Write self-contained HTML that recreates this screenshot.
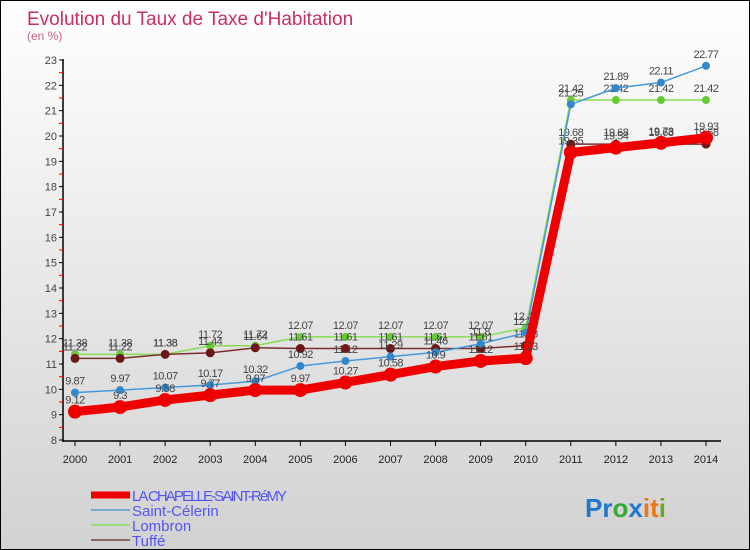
<!DOCTYPE html>
<html><head><meta charset="utf-8"><style>
html,body{margin:0;padding:0}
body{width:750px;height:550px;overflow:hidden;font-family:"Liberation Sans",sans-serif}
#wrap{position:relative;width:748px;height:548px;border:1px solid #000;background:linear-gradient(#ffffff,#d2d2d2)}
</style></head><body>
<div id="wrap">
<svg id="chart" width="748" height="548" style="position:absolute;left:0;top:0"></svg>
</div>
<script>
const years=[2000,2001,2002,2003,2004,2005,2006,2007,2008,2009,2010,2011,2012,2013,2014];
const yTicks=[8,9,10,11,12,13,14,15,16,17,18,19,20,21,22,23];
const chapelle=[9.12,9.3,9.58,9.77,9.97,9.97,10.27,10.58,10.9,11.12,11.23,19.35,19.54,19.73,19.93];
const celerin=[9.87,9.97,10.07,10.17,10.32,10.92,11.12,11.29,11.46,11.8,12.23,21.25,21.89,22.11,22.77];
const lombron=[11.38,11.38,11.38,11.72,11.72,12.07,12.07,12.07,12.07,12.07,12.43,21.42,21.42,21.42,21.42];
const tuffe=[11.22,11.22,11.38,11.44,11.64,11.61,11.61,11.61,11.61,11.61,11.73,19.68,19.68,19.68,19.68];
const NS='http://www.w3.org/2000/svg';
const svg=document.getElementById('chart');
const X=i=>74+i*(631/14);
const Y=v=>439-(v-8)*(380/15);
function mk(t,a,p){const e=document.createElementNS(NS,t);for(const k in a)e.setAttribute(k,a[k]);(p||svg).appendChild(e);return e;}
function tx(s,a){const e=mk('text',a);e.textContent=s;return e;}
let t=tx("Evolution du Taux de Taxe d'Habitation",{x:26,y:24,'font-size':19,fill:'#c8305f'});


t=tx("(en %)",{x:26,y:39,'font-size':12,fill:'#c8607f'});


// axes
let ax=mk('line',{x1:62,y1:58,x2:62,y2:441,stroke:'#000','stroke-width':1.5});


ax=mk('line',{x1:62,y1:440,x2:720,y2:440,stroke:'#000','stroke-width':1.5});


yTicks.forEach(v=>{
 mk('line',{x1:58,y1:Y(v),x2:62,y2:Y(v),stroke:'#000'});
 if(v<23) mk('line',{x1:58,y1:Y(v+0.5),x2:62,y2:Y(v+0.5),stroke:'#e00'});
 const l=tx(String(v),{x:56,y:Y(v)+4,'font-size':11,fill:'#444','text-anchor':'end'});
 
 
});
years.forEach((y,i)=>{
 mk('line',{x1:X(i),y1:440,x2:X(i),y2:445,stroke:'#000'});
 const l=tx(String(y),{x:X(i),y:462,'font-size':11,fill:'#222','text-anchor':'middle'});
 
 
});
function series(arr,color,w,r,dot,name,lblDy){
 const g=mk('g',{});
 
 
 const pl=mk('polyline',{points:arr.map((v,i)=>X(i)+','+Y(v)).join(' '),fill:'none',stroke:color,'stroke-width':w,'stroke-linejoin':'round'},g);
 
 
 arr.forEach((v,i)=>{
  const c=mk('circle',{cx:X(i),cy:Y(v),r:r,fill:dot},g);
  
  
  const l=tx(String(v),{x:X(i),y:Y(v)+lblDy,'font-size':11,fill:'#444','text-anchor':'middle','letter-spacing':'-0.5'});
  
  
 });
}
series(lombron,'#88dd55',1.5,4,'#66cc33','lombron',-8);
series(tuffe,'#7a3030',1.5,4.5,'#6b1818','tuffe',-8);
series(celerin,'#4499dd',1.5,4,'#3388cc','saint-celerin',-8);
series(chapelle,'#ee0000',9,7,'#ee0000','la-chapelle',-8);
// legend
const leg=[['LA CHAPELLE-SAINT-RéMY','#ee0000',7],['Saint-Célerin','#77aacc',2],['Lombron','#99dd77',2],['Tuffé','#886666',2]];
leg.forEach((e,i)=>{
 const y=494+i*15;
 const g=mk('g',{});
 
 
 mk('line',{x1:90,y1:y,x2:129,y2:y,stroke:e[1],'stroke-width':e[2]},g);
 const l=mk('text',{x:131,y:y+6,'font-size':15,fill:'#5555ee','textLength':e[0].length>15?155:0},g);
 if(e[0].length<=15)l.removeAttribute('textLength');
 l.textContent=e[0];
});
const p=mk('text',{x:584,y:516,'font-size':26,'font-weight':'bold'});


[['P','#2277cc'],['r','#2277cc'],['o','#33aa33'],['x','#2277cc'],['i','#ee7711'],['t','#ee7711'],['i','#66aa22']].forEach(c=>{const s=mk('tspan',{fill:c[1]},p);s.textContent=c[0];});
</script>
</body></html>
